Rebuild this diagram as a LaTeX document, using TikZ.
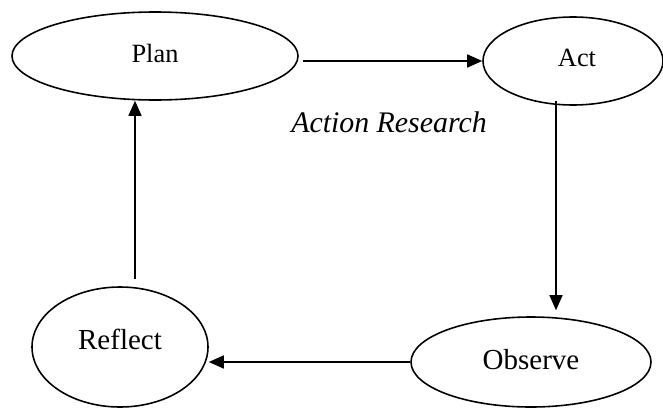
\documentclass[tikz,border=0pt]{standalone}
\usepackage{fontspec}
\setmainfont{Liberation Serif}
\usepackage{tikz}
\usetikzlibrary{arrows.meta,positioning,shapes.geometric}
\tikzset{
  base/.style={font=\fontsize{15}{18}\selectfont, align=center, inner sep=0pt, text=black},
  stage/.style={base, ellipse, draw=black, fill=white, line width=0.9pt},
  arr/.style={-{Triangle[length=3mm,width=2.6mm]}, line width=0.9pt, draw=black},
  lbl/.style={base, font=\fontsize{17}{20}\selectfont\itshape},
}
\begin{document}
\begin{tikzpicture}
  \useasboundingbox (0,0) rectangle (13.26,8.16);
  % the four stages
  \node[stage,minimum width=5.72cm,minimum height=1.76cm] (plan) at (3.10,7.04) {\raisebox{0.12cm}{Plan}};
  \node[stage,minimum width=3.6cm,minimum height=1.76cm] (act) at (11.46,6.94) {\raisebox{0.12cm}{\hspace{0.16cm}Act}};
  \node[stage,minimum width=4.8cm,minimum height=1.8cm,font=\fontsize{16.5}{19}\selectfont] (observe) at (10.62,0.92) {\raisebox{0.1cm}{Observe}};
  \node[stage,minimum width=3.52cm,minimum height=2.4cm,font=\fontsize{16.5}{19}\selectfont] (reflect) at (2.40,1.22) {\raisebox{0.3cm}{Reflect}};
  \node[lbl] (title) at (7.78,5.72) {Action Research};
  % arrow ends
  \coordinate (pa) at ([xshift=0.08cm]plan.east);
  \coordinate (aa) at ([xshift=-0.34cm,yshift=0.1cm]act.south);
  \coordinate (oa) at ([yshift=0.12cm]observe.north);
  \coordinate (ra) at ([xshift=0.3cm,yshift=0.14cm]reflect.north);
  \draw[arr] (pa |- act.west) -- (act.west);
  \draw[arr] (aa) -- (aa |- oa);
  \draw[arr] (observe.west) -- (observe.west -| reflect.east);
  \draw[arr] (ra) -- (ra |- plan.south);
\end{tikzpicture}
\end{document}
